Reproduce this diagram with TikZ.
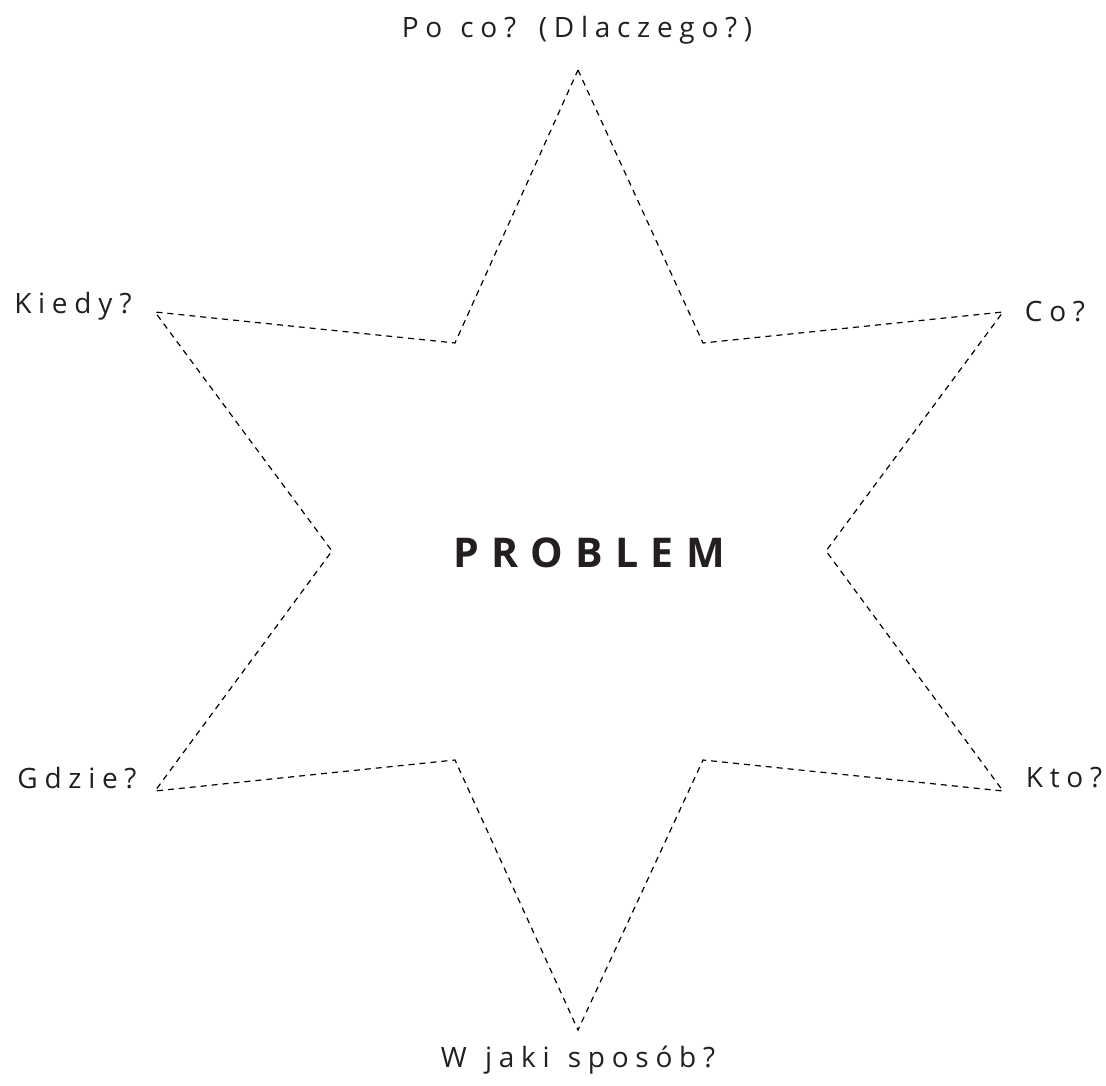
\documentclass[tikz,border=0pt]{standalone}
\usepackage{fontspec}
\setmainfont{Open Sans}
\newfontfamily\qfont[LetterSpace=24,WordSpace=1.3]{Open Sans}
\newfontfamily\pfont[LetterSpace=30]{Open Sans}
\definecolor{ink}{HTML}{231F20}
\begin{document}
\begin{tikzpicture}[x=1pt,y=-1pt,
  qlabel/.style={font=\qfont\fontsize{28}{32}\selectfont, text=ink, inner sep=0pt},
  star/.style={draw=black, line width=1.2pt, dash pattern=on 6pt off 5pt, line join=miter}]
\useasboundingbox (0,0) rectangle (1106,1086);
\coordinate (T) at (578,70);
\coordinate (TR) at (703,343);
\coordinate (KR) at (1003,312);
\coordinate (R) at (826,551);
\coordinate (KtR) at (1003,791);
\coordinate (BR) at (703,760);
\coordinate (B) at (578,1030);
\coordinate (BL) at (455,760);
\coordinate (GL) at (155,791);
\coordinate (L) at (332,551);
\coordinate (KL) at (155,312);
\coordinate (TL) at (455,343);
\draw[star] (T) -- (TR) -- (KR) -- (R) -- (KtR) -- (BR) -- (B) -- (BL) -- (GL) -- (L) -- (KL) -- (TL) -- cycle;
\node[qlabel] (pocoq) at (577,30) {Po co? (Dlaczego?)};
\node[qlabel] (kiedy) at (73,306) {Kiedy?};
\node[qlabel] (co) at (1055,312) {Co?};
\node[qlabel] (gdzie) at (77,778) {Gdzie?};
\node[qlabel] (kto) at (1064,778) {Kto?};
\node[qlabel] (wjaki) at (578,1060) {W jaki sposób?};
\node[font=\pfont\bfseries\fontsize{41}{44}\selectfont, text=ink, inner sep=0pt] (problem) at (589,553) {PROBLEM};
\end{tikzpicture}
\end{document}
